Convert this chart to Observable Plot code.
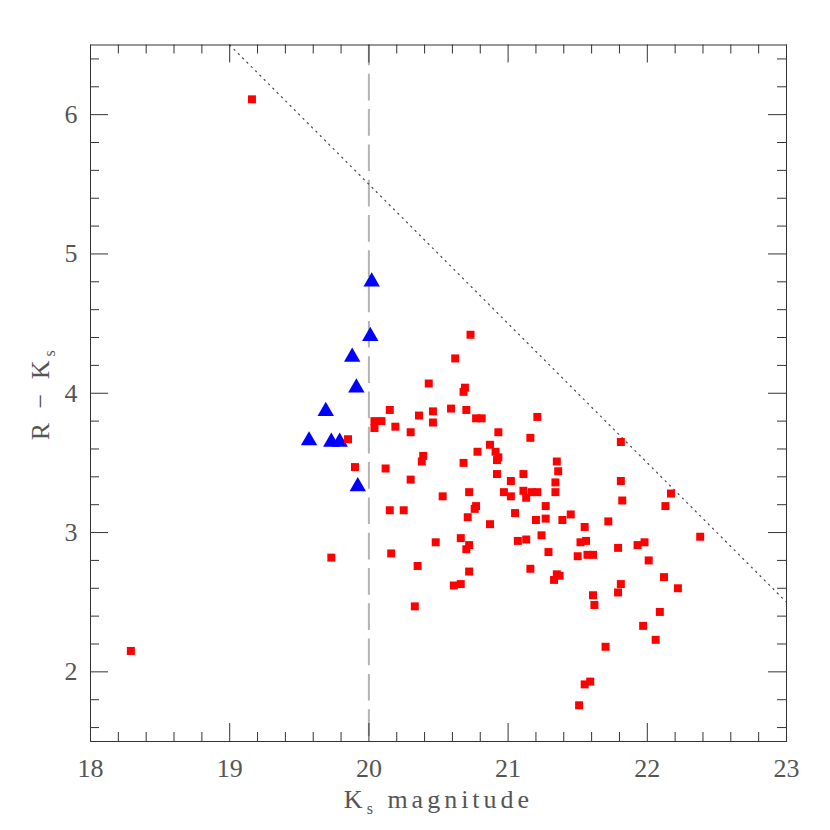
<!DOCTYPE html>
<html><head><meta charset="utf-8">
<script src="https://cdn.jsdelivr.net/npm/d3@7"></script>
<script src="https://cdn.jsdelivr.net/npm/@observablehq/plot@0.6"></script>
<style>
body{margin:0;background:#fff}
g[aria-label="text"] text{letter-spacing:4px}
</style>
</head><body><div id="chart"></div>
<script>
// Red squares: Ks magnitude and R - Ks colour
const squareKs = [19.16,18.29,19.73,20.73,20.62,20.43,20.69,20.68,20.15,20.36,20.46,20.59,20.70,20.77,20.81,20.04,20.09,20.04,20.19,20.46,20.30,19.85,20.78,20.39,20.38,20.68,19.90,20.12,20.30,20.53,20.72,20.76,20.77,20.71,20.15,20.25,20.48,20.66,20.72,20.70,20.16,20.35,20.72,20.61,20.66,20.33,21.21,20.93,21.16,21.81,20.87,20.91,20.93,20.92,21.35,21.36,20.92,21.11,21.02,21.34,21.81,20.97,21.02,21.11,21.13,21.17,21.21,21.34,21.82,21.27,21.05,21.20,21.27,21.39,21.45,20.87,21.55,21.72,21.07,21.13,21.24,21.52,21.56,21.79,21.93,21.98,21.29,21.50,21.57,21.61,21.16,21.35,21.37,21.33,21.81,21.79,21.61,21.62,21.70,21.59,21.55,21.51,22.17,22.13,22.38,22.01,22.12,22.22,22.09,21.97,22.06];
const squareColor = [6.11,2.15,2.82,4.42,4.25,4.07,4.04,4.01,3.88,3.84,3.87,3.89,3.88,3.82,3.82,3.80,3.80,3.75,3.76,3.79,3.72,3.67,3.58,3.55,3.51,3.50,3.47,3.46,3.38,3.26,3.29,3.17,3.19,3.11,3.16,3.16,2.93,2.96,2.91,2.88,2.85,2.76,2.72,2.62,2.63,2.47,3.83,3.72,3.68,3.65,3.63,3.58,3.54,3.52,3.51,3.44,3.42,3.42,3.37,3.36,3.37,3.29,3.26,3.30,3.25,3.29,3.29,3.29,3.23,3.19,3.14,3.09,3.10,3.09,3.13,3.06,3.04,3.08,2.94,2.95,2.98,2.93,2.94,2.89,2.91,2.93,2.86,2.83,2.84,2.84,2.74,2.70,2.69,2.66,2.63,2.57,2.55,2.48,2.18,1.93,1.91,1.76,3.28,3.19,2.97,2.80,2.68,2.60,2.43,2.33,2.23];
// Blue triangles
const triKs = [20.02,20.01,19.88,19.91,19.69,19.57,19.73,19.79,19.92];
const triColor = [4.80,4.41,4.26,4.04,3.87,3.66,3.65,3.65,3.33];
// Dotted limit line and dashed cut
const limitKs = [19, 23];
const limitColor = [6.5, 2.5];
const cutKs = [20];
// Axis ticks and labels
const xMajor = [18,19,20,21,22,23];
const yMajor = [2,3,4,5,6];
const xMinor = d3.range(90, 116).map(i => i/5).filter(v => !xMajor.includes(v));
const yMinor = d3.range(8, 33).map(i => i/5).filter(v => !yMajor.includes(v));
const xLabel = ["Kₛ magnitude"];
const yLabel = ["R − Kₛ"];

const W = 830, H = 830, mL = 90, mR = 44, mT = 44.5, mB = 89;
const plotH = H - mT - mB, plotW = W - mL - mR;
const majorLen = 18, minorLen = 9, tickStroke = "#333";

const squares = squareKs.map((k, i) => ({k, c: squareColor[i]}));
const tris = triKs.map((k, i) => ({k, c: triColor[i]}));
const limit = limitKs.map((k, i) => ({k, c: limitColor[i]}));

const chart = Plot.plot({
  width: W, height: H,
  marginLeft: mL, marginRight: mR, marginTop: mT, marginBottom: mB,
  style: {fontFamily: "'Liberation Serif', 'DejaVu Serif', serif", color: "#555", background: "#fff"},
  x: {domain: [18, 23], axis: null},
  y: {domain: [1.5, 6.5], axis: null},
  marks: [
    Plot.ruleX(cutKs, {x: d => d, y1: 6.5, y2: 1.5, stroke: "#b4b4b4", strokeWidth: 2, strokeDasharray: "26.7,8.6", strokeDashoffset: 6}),
    Plot.line(limit, {x: "k", y: "c", stroke: "#444", strokeWidth: 1.2, strokeDasharray: "1.2,4.9"}),
    Plot.tickX(xMinor, {x: d => d, insetTop: plotH - minorLen, stroke: tickStroke}),
    Plot.tickX(xMinor, {x: d => d, insetBottom: plotH - minorLen, stroke: tickStroke}),
    Plot.tickX(xMajor, {x: d => d, insetTop: plotH - majorLen, stroke: tickStroke}),
    Plot.tickX(xMajor, {x: d => d, insetBottom: plotH - majorLen, stroke: tickStroke}),
    Plot.tickY(yMinor, {y: d => d, insetRight: plotW - minorLen, stroke: tickStroke}),
    Plot.tickY(yMinor, {y: d => d, insetLeft: plotW - minorLen, stroke: tickStroke}),
    Plot.tickY(yMajor, {y: d => d, insetRight: plotW - majorLen, stroke: tickStroke}),
    Plot.tickY(yMajor, {y: d => d, insetLeft: plotW - majorLen, stroke: tickStroke}),
    Plot.frame({stroke: "#333"}),
    Plot.axisX({ticks: xMajor, tickSize: 0, tickPadding: 17, fontSize: 26, label: null, tickFormat: d => String(d)}),
    Plot.axisY({ticks: yMajor, tickSize: 0, tickPadding: 13, fontSize: 26, label: null, tickFormat: d => String(d)}),
    Plot.text(xLabel, {frameAnchor: "bottom", textAnchor: "middle", lineAnchor: "middle", dy: 58, fontSize: 26}),
    Plot.text(yLabel, {frameAnchor: "left", textAnchor: "middle", lineAnchor: "middle", dx: -50, rotate: -90, fontSize: 26}),
    Plot.dot(tris, {x: "k", y: "c", symbol: "triangle", r: 6.1, fill: "#0000ff", stroke: "none"}),
    Plot.dot(squares, {x: "k", y: "c", symbol: "square", r: 4.5, fill: "#ff0000", stroke: "none"})
  ]
});
// render the subscript "s" as a lowered, smaller tspan
d3.select(chart).selectAll('g[aria-label="text"] text').each(function() {
  const t = this.textContent;
  if (!t.includes("ₛ")) return;
  const [pre, post] = t.split("ₛ");
  const sel = d3.select(this).text(null);
  sel.append("tspan").text(pre);
  sel.append("tspan").attr("dy", 6).attr("font-size", 16).text("s");
  sel.append("tspan").attr("dy", -6).text(post);
});
document.getElementById("chart").appendChild(chart);
</script>
</body></html>
